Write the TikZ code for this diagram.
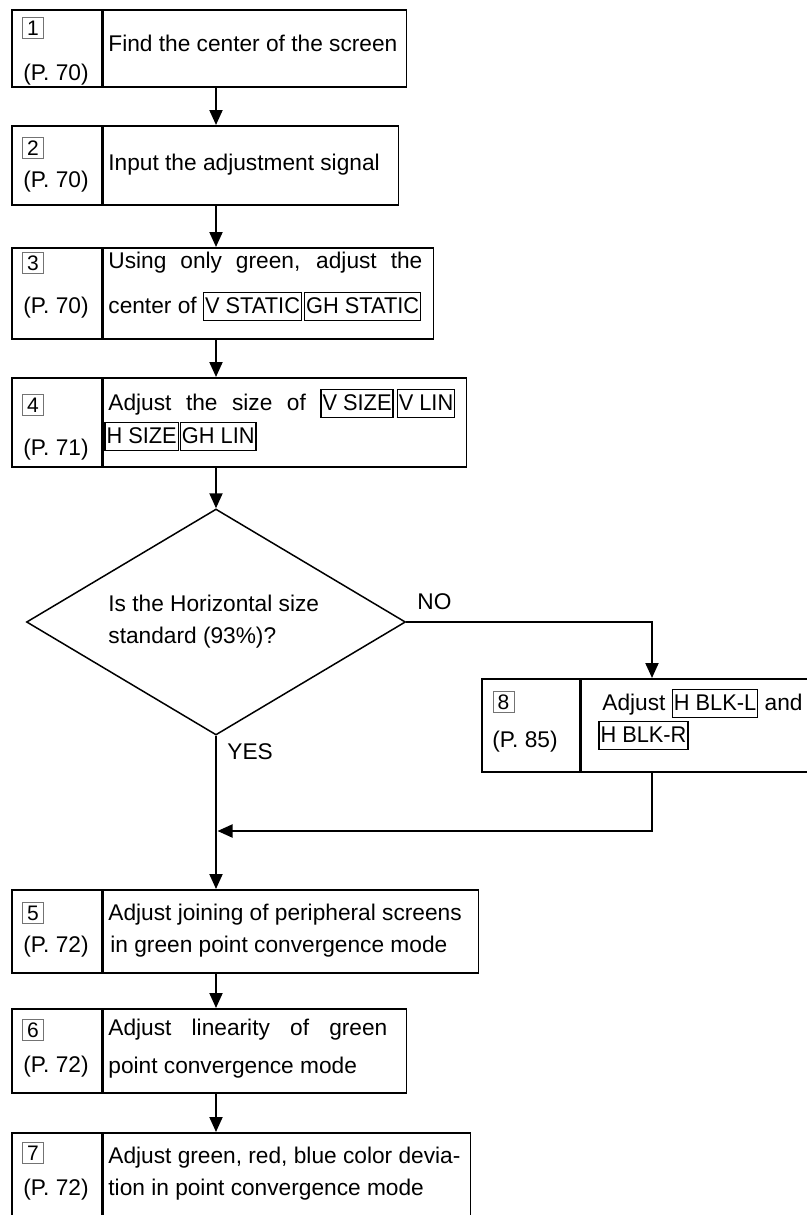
\documentclass[tikz,border=0pt]{standalone}
\usepackage{fontspec}
\usepackage{graphicx}
\setmainfont{Liberation Sans}
\usetikzlibrary{arrows.meta,shapes.geometric}
\newcommand{\ctrl}[1]{{\setlength{\fboxsep}{0pt}\setlength{\fboxrule}{0.65pt}\fbox{\hspace{0.4pt}\rule[-3.2pt]{0pt}{13.2pt}\scalebox{0.96}[1]{#1}\hspace{0.4pt}}}}

\begin{document}
\begin{tikzpicture}[
    x=0.5pt, y=-0.5pt,
    font=\fontsize{11.35}{13}\selectfont,
    refcell/.style={draw, line width=0.75pt, anchor=north west, inner sep=0pt, minimum width=45pt},
    textcell/.style={draw, line width=0.75pt, anchor=north west, inner sep=0pt},
    numbox/.style={draw=black!55, line width=0.45pt, minimum size=10.5pt, inner sep=0pt, font=\fontsize{10.5}{12}\selectfont},
    txt/.style={anchor=mid west, inner sep=0pt},
    decision/.style={diamond, draw, line width=0.75pt, minimum width=189.5pt, minimum height=113pt, inner sep=0pt},
    flow/.style={line width=1pt, -{Triangle[length=7.5pt, width=6.5pt]}}
  ]
    \useasboundingbox (0,0) rectangle (807,1215);
    \coordinate (spine) at (216,0);
    \coordinate (drop) at (652,0);
    \coordinate (merge) at (217.5,831);

    \node[refcell, minimum height=38.5pt] (ref1) at (11,9) {};
    \node[textcell, minimum width=151.5pt, minimum height=38.5pt] (step1) at (ref1.north east) {};
    \node[numbox] (num1) at (33,28) {1};
    \node[txt] (page1) at (23,75) {(P. 70)};
    \node[txt] (text1) at (108,46) {Find the center of the screen};

    \node[refcell, minimum height=39.5pt] (ref2) at (11,125) {};
    \node[textcell, minimum width=147.5pt, minimum height=39.5pt] (step2) at (ref2.north east) {};
    \node[numbox] (num2) at (33,148) {2};
    \node[txt] (page2) at (23,182) {(P. 70)};
    \node[txt] (text2) at (108,165) {Input the adjustment signal};

    \node[refcell, minimum height=45.5pt] (ref3) at (11,247) {};
    \node[textcell, minimum width=165pt, minimum height=45.5pt] (step3) at (ref3.north east) {};
    \node[numbox] (num3) at (33,263) {3};
    \node[txt] (page3) at (23,308) {(P. 70)};
    \node[txt] (text3a) at (108,263) {\makebox[157pt][s]{Using only green, adjust the}};
    \node[txt] (text3b) at (108,308) {center of \ctrl{V STATIC}\hspace{1pt}\ctrl{GH STATIC}};

    \node[refcell, minimum height=44.5pt] (ref4) at (11,377) {};
    \node[textcell, minimum width=181.5pt, minimum height=44.5pt] (step4) at (ref4.north east) {};
    \node[numbox] (num4) at (33,405) {4};
    \node[txt] (page4) at (23,450) {(P. 71)};
    \node[txt] (text4a) at (108,405) {\makebox[173.5pt][s]{Adjust the size of \ctrl{V SIZE}\hspace{1.5pt}\ctrl{V LIN}}};
    \node[txt] (text4b) at (104,438) {\ctrl{H SIZE}\hspace{0.5pt}\ctrl{GH LIN}};

    \node[decision] (check) at (216,622) {};
    \node[txt] (check1) at (108,606) {Is the Horizontal size};
    \node[txt] (check2) at (108,638) {standard (93\%)?};
    \node[txt] (no) at (417,604) {NO};
    \node[txt] (yes) at (227,754) {YES};

    \node[refcell, minimum width=49pt, minimum height=46.5pt] (ref8) at (481,678) {};
    \node[textcell, minimum width=120.5pt, minimum height=46.5pt] (step8) at (ref8.north east) {};
    \node[numbox] (num8) at (503.5,702) {8};
    \node[txt] (page8) at (492,742) {(P. 85)};
    \node[txt] (text8a) at (602,705) {Adjust \ctrl{H BLK-L} and};
    \node[txt] (text8b) at (598,737) {\ctrl{H BLK-R}};

    \node[refcell, minimum height=41.5pt] (ref5) at (11,889) {};
    \node[textcell, minimum width=187.5pt, minimum height=41.5pt] (step5) at (ref5.north east) {};
    \node[numbox] (num5) at (33,913) {5};
    \node[txt] (page5) at (23,947) {(P. 72)};
    \node[txt] (text5a) at (108,915) {Adjust joining of peripheral screens};
    \node[txt] (text5b) at (110,947) {in green point convergence mode};

    \node[refcell, minimum height=42pt] (ref6) at (11,1008) {};
    \node[textcell, minimum width=151.5pt, minimum height=42pt] (step6) at (ref6.north east) {};
    \node[numbox] (num6) at (33,1030) {6};
    \node[txt] (page6) at (23,1067) {(P. 72)};
    \node[txt] (text6a) at (108,1030) {\makebox[139.5pt][s]{Adjust linearity of green}};
    \node[txt] (text6b) at (108,1068) {point convergence mode};

    \node[refcell, minimum height=45pt] (ref7) at (11,1132) {};
    \node[textcell, minimum width=183.5pt, minimum height=45pt] (step7) at (ref7.north east) {};
    \node[numbox] (num7) at (33,1153) {7};
    \node[txt] (page7) at (23,1190) {(P. 72)};
    \node[txt] (text7a) at (108,1158) {Adjust green, red, blue color devia-};
    \node[txt] (text7b) at (108,1190) {tion in point convergence mode};

    \draw[flow] (step1.south -| spine) -- (step2.north -| spine);
    \draw[flow] (step2.south -| spine) -- (step3.north -| spine);
    \draw[flow] (step3.south -| spine) -- (step4.north -| spine);
    \draw[flow] (step4.south -| spine) -- (check.north);
    \draw[flow] (check.east) -| (drop |- step8.north);
    \draw[flow] (drop |- step8.south) |- (merge);
    \draw[flow] (check.south) -- (step5.north -| spine);
    \draw[flow] (step5.south -| spine) -- (step6.north -| spine);
    \draw[flow] (step6.south -| spine) -- (step7.north -| spine);
  \end{tikzpicture}
\end{document}
